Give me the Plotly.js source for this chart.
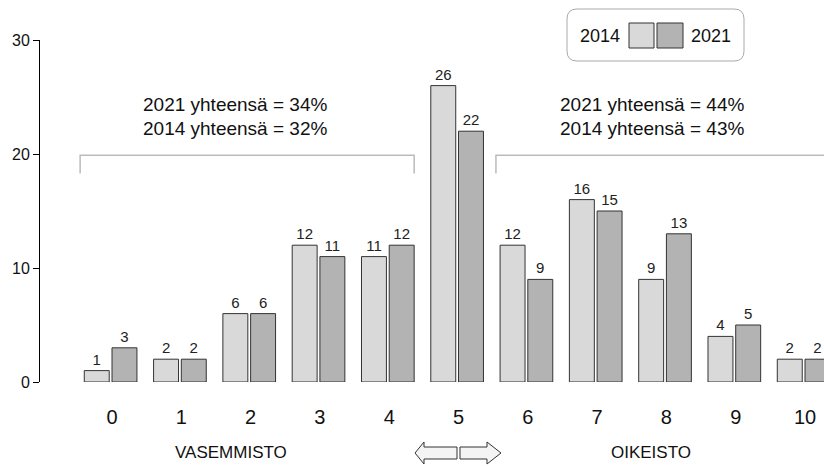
<!DOCTYPE html>
<html>
<head>
<meta charset="utf-8">
<script src="https://cdn.plot.ly/plotly-3.0.1.min.js"></script>
<style>html,body{margin:0;padding:0;background:#fff}#chart{width:824px;height:466px}</style>
</head>
<body>
<div id="chart"></div>
<script>
const categories = [0,1,2,3,4,5,6,7,8,9,10];
const tickLabels = ["0","1","2","3","4","5","6","7","8","9","10"];
const values2014 = [1,2,6,12,11,26,12,16,9,4,2];
const values2021 = [3,2,6,11,12,22,9,15,13,5,2];
const seriesNames = ["2014","2021"];
const leftTotals = ["2021 yhteensä = 34%","2014 yhteensä = 32%"];
const rightTotals = ["2021 yhteensä = 44%","2014 yhteensä = 43%"];
const sideLabels = ["VASEMMISTO","OIKEISTO"];

const FONT = "Arial, 'Liberation Sans', sans-serif";
const W = 824, H = 466, ML = 40, MR = 0, MT = 40, MB = 84;
const PW = W - ML - MR, PH = H - MT - MB;
const px = x => (x - ML) / PW;
const py = y => (H - MB - y) / PH;
function pathPx(pts){ return 'M' + pts.map(p => px(p[0]).toFixed(5)+','+py(p[1]).toFixed(5)).join(' L') + ' Z'; }

const barStyle = {type:'bar', width:0.36, textposition:'outside', cliponaxis:false, constraintext:'none',
  textfont:{family:FONT,size:15,color:'#222'}, hoverinfo:'skip', showlegend:false};
const traces = [
  Object.assign({}, barStyle, {x:categories, y:values2014, name:seriesNames[0], offset:-0.40,
    text:values2014.map(String), marker:{color:'#d9d9d9', line:{color:'#333', width:1}}}),
  Object.assign({}, barStyle, {x:categories, y:values2021, name:seriesNames[1], offset:0.0,
    text:values2021.map(String), marker:{color:'#b3b3b3', line:{color:'#333', width:1}}})
];

const shapes = [
  {type:'path', xref:'x', yref:'y', path:'M-0.46,18.3 L-0.46,19.9 L4.36,19.9 L4.36,18.3', line:{color:'#bbbbbb', width:1.5}},
  {type:'path', xref:'x', yref:'y', path:'M5.54,18.3 L5.54,19.9 L10.6,19.9', line:{color:'#bbbbbb', width:1.5}},
  {type:'path', xref:'paper', yref:'paper', path:pathPx([[415,453],[424,442],[424,447],[457,447],[457,459],[424,459],[424,464]]), fillcolor:'#f4f4f4', line:{color:'#333', width:1}},
  {type:'path', xref:'paper', yref:'paper', path:pathPx([[460,447],[487,447],[487,442],[501,453],[487,464],[487,459],[460,459]]), fillcolor:'#f4f4f4', line:{color:'#333', width:1}},
  {type:'path', xref:'paper', yref:'paper', path:(function(){
      const x0=567,x1=744,y0=9,y1=61,r=10;
      return 'M'+px(x0+r)+','+py(y0)+' L'+px(x1-r)+','+py(y0)+' Q'+px(x1)+','+py(y0)+' '+px(x1)+','+py(y0+r)+
        ' L'+px(x1)+','+py(y1-r)+' Q'+px(x1)+','+py(y1)+' '+px(x1-r)+','+py(y1)+
        ' L'+px(x0+r)+','+py(y1)+' Q'+px(x0)+','+py(y1)+' '+px(x0)+','+py(y1-r)+
        ' L'+px(x0)+','+py(y0+r)+' Q'+px(x0)+','+py(y0)+' '+px(x0+r)+','+py(y0)+' Z';
    })(), line:{color:'#aaaaaa', width:1}, fillcolor:'rgba(0,0,0,0)'},
  {type:'rect', xref:'paper', yref:'paper', x0:px(629), x1:px(654), y0:py(48), y1:py(23), fillcolor:'#d9d9d9', line:{color:'#333', width:1}},
  {type:'rect', xref:'paper', yref:'paper', x0:px(657), x1:px(683), y0:py(48), y1:py(23), fillcolor:'#b3b3b3', line:{color:'#333', width:1}}
];

const annFont = {family:FONT, size:19, color:'#111'};
const sideFont = {family:FONT, size:17, color:'#111'};
function ann(x, y, text, font){ return {xref:'paper', yref:'paper', x:px(x), y:py(y), xanchor:'center', yanchor:'middle', text:text, showarrow:false, font:font}; }
const annotations = [
  ann(235, 105, leftTotals[0], annFont),
  ann(235, 128, leftTotals[1], annFont),
  ann(652, 105, rightTotals[0], annFont),
  ann(652, 128, rightTotals[1], annFont),
  ann(231, 453, sideLabels[0], sideFont),
  ann(651, 453, sideLabels[1], sideFont),
  ann(600, 36, seriesNames[0], {family:FONT,size:18,color:'#111'}),
  ann(711, 36, seriesNames[1], {family:FONT,size:18,color:'#111'})
];

const layout = {
  width:W, height:H, margin:{l:ML, r:MR, t:MT, b:MB},
  paper_bgcolor:'#fff', plot_bgcolor:'#fff',
  barmode:'group', showlegend:false,
  font:{family:FONT, color:'#111'},
  xaxis:{range:[-1.039, 10.274], tickvals:categories, ticktext:tickLabels, showline:false, showgrid:false,
    zeroline:false, ticks:'', tickfont:{family:FONT, size:20, color:'#111'}, ticklabelstandoff:21, fixedrange:true},
  yaxis:{range:[0,30], tickvals:[0,10,20,30], showline:true, linecolor:'#000', linewidth:1, ticks:'outside',
    ticklen:6, tickcolor:'#000', showgrid:false, zeroline:false, tickfont:{family:FONT, size:16, color:'#111'}, fixedrange:true},
  shapes:shapes, annotations:annotations
};
Plotly.newPlot('chart', traces, layout, {displayModeBar:false, staticPlot:true});
</script>
</body>
</html>
